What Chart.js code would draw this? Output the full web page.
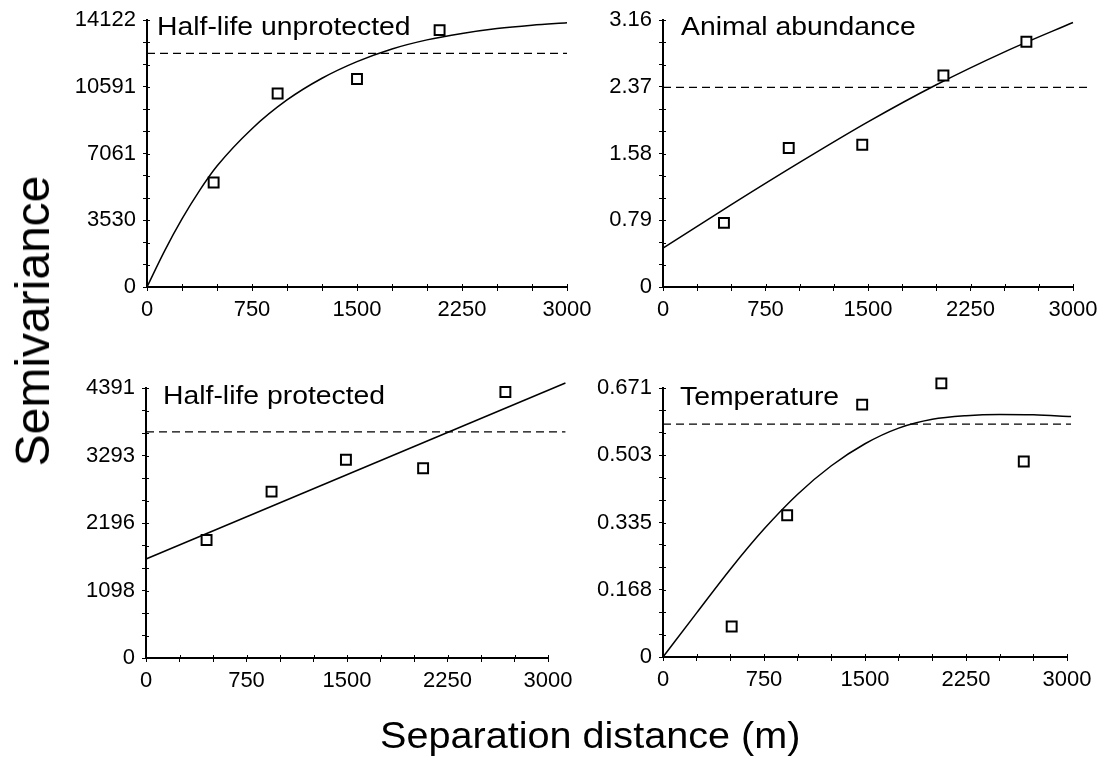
<!DOCTYPE html>
<html>
<head>
<meta charset="utf-8">
<script src="https://cdn.jsdelivr.net/npm/chart.js@4.4.0/dist/chart.umd.min.js"></script>
<style>
html,body{margin:0;padding:0;background:#fff;}
#wrap{position:relative;width:1106px;height:776px;overflow:hidden;background:#fff;}
canvas{position:absolute;left:0;top:0;pointer-events:none;}
.lbl{position:absolute;font-family:"Liberation Sans",Arial,Helvetica,sans-serif;color:#000;white-space:nowrap;line-height:1;transform-origin:0 0;}
</style>
</head>
<body>
<div id="wrap">
<canvas id="c1" width="1106" height="776"></canvas>
<canvas id="c2" width="1106" height="776"></canvas>
<canvas id="c3" width="1106" height="776"></canvas>
<canvas id="c4" width="1106" height="776"></canvas>
<div class="lbl" id="t1" style="left:157px;top:13px;font-size:26px;transform:scaleX(1.09);"></div>
<div class="lbl" id="t2" style="left:681px;top:13px;font-size:26px;transform:scaleX(1.09);"></div>
<div class="lbl" id="t3" style="left:163px;top:382px;font-size:26px;transform:scaleX(1.09);"></div>
<div class="lbl" id="t4" style="left:680px;top:383px;font-size:26px;transform:scaleX(1.09);"></div>
<div class="lbl" id="xt" style="left:380px;top:718px;font-size:36px;transform:scaleX(1.1);"></div>
<div class="lbl" id="yt" style="left:33px;top:321px;font-size:48px;transform:translate(-50%,-50%) rotate(-90deg);transform-origin:50% 50%;"></div>
</div>
<script>
// ---------- shared text ----------
const xTitle = 'Separation distance (m)';
const yTitle = 'Semivariance';
const xTickLabels = ['0', '750', '1500', '2250', '3000'];
const xMax = 3000;

// ---------- Panel 1: Half-life unprotected ----------
const p1Title = 'Half-life unprotected';
const p1YLabels = ['0', '3530', '7061', '10591', '14122'];
const p1YMax = 14122;
const p1PointX = [476, 933, 1500, 2090];
const p1PointY = [5533, 10240, 11013, 13595];
const p1CurveX = [0, 125, 250, 375, 500, 750, 1000, 1250, 1500, 1750, 2000, 2250, 2500, 2750, 3000];
const p1CurveY = [0, 1900, 3600, 5100, 6400, 8380, 9900, 11050, 11930, 12600, 13080, 13420, 13680, 13860, 13990];
const p1SillX = [0, 3000];
const p1Sill = 12366;

// ---------- Panel 2: Animal abundance ----------
const p2Title = 'Animal abundance';
const p2YLabels = ['0', '0.79', '1.58', '2.37', '3.16'];
const p2YMax = 3.16;
const p2PointX = [446, 920, 1458, 2052, 2659];
const p2PointY = [0.76, 1.646, 1.685, 2.505, 2.904];
const p2CurveX = [0, 500, 1000, 1500, 2000, 2500, 3000, 3134];
const p2CurveY = [0.46, 0.975, 1.475, 1.955, 2.395, 2.785, 3.133, 3.225];
const p2SillX = [0, 3134];
const p2Sill = 2.365;

// ---------- Panel 3: Half-life protected ----------
const p3Title = 'Half-life protected';
const p3YLabels = ['0', '1098', '2196', '3293', '4391'];
const p3YMax = 4391;
const p3PointX = [452, 937, 1492, 2068, 2682];
const p3PointY = [1918, 2706, 3223, 3087, 4326];
const p3CurveX = [0, 3130];
const p3CurveY = [1609, 4472];
const p3SillX = [0, 3130];
const p3Sill = 3679;

// ---------- Panel 4: Temperature ----------
const p4Title = 'Temperature';
const p4YLabels = ['0', '0.168', '0.335', '0.503', '0.671'];
const p4YMax = 0.671;
const p4PointX = [510, 922, 1479, 2067, 2679];
const p4PointY = [0.076, 0.3535, 0.6295, 0.6826, 0.4875];
const p4CurveX = [0, 250, 500, 750, 1000, 1250, 1500, 1750, 2000, 2250, 2500, 2750, 3030];
const p4CurveY = [0, 0.110, 0.219, 0.319, 0.406, 0.477, 0.532, 0.571, 0.593, 0.602, 0.605, 0.604, 0.600];
const p4SillX = [0, 3030];
const p4Sill = 0.581;

const FONT = '"Liberation Sans", Arial, Helvetica, sans-serif';
const W = 1106, H = 776, YW = 80, XH = 40;

const innerTicks = {
  id: 'innerTicks',
  afterDraw(chart) {
    const { ctx, chartArea, scales } = chart;
    const x = scales.x, y = scales.y;
    ctx.save();
    ctx.strokeStyle = '#000';
    ctx.lineWidth = 1;
    ctx.beginPath();
    x.ticks.forEach(t => {
      const px = Math.round(x.getPixelForValue(t.value)) + 0.5;
      ctx.moveTo(px, chartArea.bottom);
      ctx.lineTo(px, chartArea.bottom - 3);
    });
    y.ticks.forEach(t => {
      const py = Math.round(y.getPixelForValue(t.value)) + 0.5;
      ctx.moveTo(chartArea.left, py);
      ctx.lineTo(chartArea.left + 3, py);
    });
    ctx.stroke();
    ctx.restore();
  }
};

function pairs(xs, ys) { return xs.map((v, i) => ({ x: v, y: ys[i] })); }

function makePanel(id, box, yMax, yLabels, ptX, ptY, cX, cY, sillX, sill) {
  const xStep = xMax / 12;
  new Chart(document.getElementById(id), {
    type: 'scatter',
    data: {
      datasets: [
        {
          type: 'scatter', data: pairs(ptX, ptY), pointStyle: 'rect', pointRadius: 7,
          pointBorderWidth: 2, pointBorderColor: '#000', pointBackgroundColor: '#fff',
          borderColor: '#000', backgroundColor: '#fff', clip: false
        },
        {
          type: 'line', data: pairs(cX, cY), borderColor: '#000', borderWidth: 1.5,
          pointRadius: 0, fill: false, cubicInterpolationMode: 'monotone', clip: false
        },
        {
          type: 'line', data: pairs(sillX, [sill, sill]), borderColor: '#000', borderWidth: 1.2,
          borderDash: [8, 5], pointRadius: 0, fill: false, clip: false
        }
      ]
    },
    options: {
      responsive: false, animation: false, devicePixelRatio: 1,
      layout: { padding: { left: box.l - YW, top: box.t, right: W - box.r, bottom: H - box.b - XH } },
      plugins: { legend: { display: false }, tooltip: { enabled: false }, title: { display: false } },
      scales: {
        x: {
          type: 'linear', min: 0, max: xMax,
          afterFit: s => { s.height = XH; },
          afterBuildTicks: s => { const a = []; for (let i = 0; i <= 12; i++) a.push({ value: i * xStep }); s.ticks = a; },
          ticks: {
            autoSkip: false, maxRotation: 0, minRotation: 0, padding: 6, color: '#000',
            font: { family: FONT, size: 22 },
            callback: (v, i) => (i % 3 === 0 ? xTickLabels[i / 3] : '')
          },
          grid: { drawOnChartArea: false, drawTicks: true, tickLength: 4, color: '#000', lineWidth: 1 },
          border: { display: true, color: '#000', width: 2 }
        },
        y: {
          type: 'linear', min: 0, max: yMax,
          afterFit: s => { s.width = YW; },
          afterBuildTicks: s => { const a = []; for (let i = 0; i <= 12; i++) a.push({ value: yMax * i / 12 }); s.ticks = a; },
          ticks: {
            autoSkip: false, padding: 7, color: '#000',
            font: { family: FONT, size: 22 },
            callback: (v, i) => (i % 3 === 0 ? yLabels[i / 3] : '')
          },
          grid: { drawOnChartArea: false, drawTicks: true, tickLength: 4, color: '#000', lineWidth: 1 },
          border: { display: true, color: '#000', width: 2 }
        }
      }
    },
    plugins: [innerTicks]
  });
}

makePanel('c1', { l: 147, r: 567, t: 19, b: 287 }, p1YMax, p1YLabels, p1PointX, p1PointY, p1CurveX, p1CurveY, p1SillX, p1Sill);
makePanel('c2', { l: 663, r: 1073, t: 18, b: 287 }, p2YMax, p2YLabels, p2PointX, p2PointY, p2CurveX, p2CurveY, p2SillX, p2Sill);
makePanel('c3', { l: 146, r: 548, t: 388, b: 658 }, p3YMax, p3YLabels, p3PointX, p3PointY, p3CurveX, p3CurveY, p3SillX, p3Sill);
makePanel('c4', { l: 663, r: 1067, t: 388, b: 657 }, p4YMax, p4YLabels, p4PointX, p4PointY, p4CurveX, p4CurveY, p4SillX, p4Sill);

document.getElementById('t1').textContent = p1Title;
document.getElementById('t2').textContent = p2Title;
document.getElementById('t3').textContent = p3Title;
document.getElementById('t4').textContent = p4Title;
document.getElementById('xt').textContent = xTitle;
document.getElementById('yt').textContent = yTitle;
</script>
</body>
</html>
